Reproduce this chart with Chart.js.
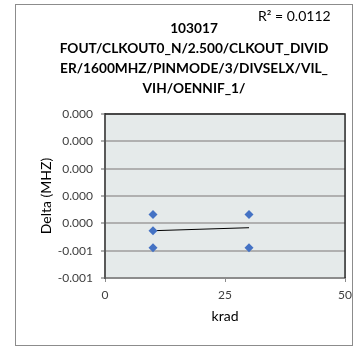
<!DOCTYPE html>
<html>
<head>
<meta charset="utf-8">
<script src="https://cdn.jsdelivr.net/npm/chart.js@4"></script>
<style>
  html, body { margin: 0; padding: 0; background: #fff; }
  #wrap { width: 358px; height: 347px; position: relative; }
</style>
</head>
<body>
<div id="wrap"><canvas id="chart" width="358" height="347"></canvas></div>
<script>
// data
const xTop = [10, 30];
const yTop = [-0.000335, -0.000335];
const xMid = [10];
const yMid = [-0.000454];
const xLow = [10, 30];
const yLow = [-0.000579, -0.000579];
const trendX = [10, 30];
const trendY = [-0.000454, -0.000432];
const yTickLabels = ['-0.001', '-0.001', '0.000', '0.000', '0.000', '0.000', '0.000']; // bottom to top
const xTicks = [0, 25, 50];
const titleLines = ['103017', 'FOUT/CLKOUT0_N/2.500/CLKOUT_DIVID', 'ER/1600MHZ/PINMODE/3/DIVSELX/VIL_', 'VIH/OENNIF_1/'];
const rSquared = '0.0112';

const pts = [];
[[xTop, yTop], [xMid, yMid], [xLow, yLow]].forEach(([xs, ys]) => {
    xs.forEach((x, i) => pts.push({x: x, y: ys[i]}));
});
const trend = trendX.map((x, i) => ({x: x, y: trendY[i]}));

const FONT = 'Lato, "Open Sans", sans-serif';

const frame = {
    id: 'frame',
    beforeDraw(chart) {
        const {ctx, chartArea: a} = chart;
        ctx.save();
        ctx.strokeStyle = '#8c8c8c';
        ctx.lineWidth = 1;
        ctx.strokeRect(15.5, 4.5, 337, 341);
        ctx.fillStyle = '#e5eaea';
        ctx.fillRect(a.left, a.top, a.right - a.left, a.bottom - a.top);
        ctx.restore();
    },
    afterDraw(chart) {
        const {ctx, chartArea: a} = chart;
        ctx.save();
        ctx.strokeStyle = '#262626';
        ctx.lineWidth = 1.5;
        ctx.beginPath();
        ctx.moveTo(a.left, a.top);
        ctx.lineTo(a.right, a.top);
        ctx.lineTo(a.right, a.bottom);
        ctx.stroke();
        // title
        ctx.fillStyle = '#000';
        ctx.textAlign = 'center';
        ctx.textBaseline = 'middle';
        ctx.font = 'bold 13.7px ' + FONT;
        titleLines.forEach((t, i) => ctx.fillText(t, 194, 29 + i * 20));
        // R squared
        ctx.font = '14px ' + FONT;
        ctx.textAlign = 'left';
        ctx.fillText('R² = ' + rSquared, 258, 16);
        ctx.restore();
    }
};

new Chart(document.getElementById('chart'), {
    type: 'scatter',
    data: {
        datasets: [
            {
                label: 'data',
                data: pts,
                pointStyle: 'rectRot',
                pointRadius: 4.5,
                pointHoverRadius: 4.5,
                backgroundColor: '#4472c4',
                borderColor: '#4472c4',
                borderWidth: 0,
            },
            {
                label: 'trend',
                type: 'line',
                data: trend,
                borderColor: '#000',
                borderWidth: 1,
                pointRadius: 0,
                fill: false,
            },
        ],
    },
    options: {
        responsive: false,
        animation: false,
        layout: {padding: {top: 114, left: 38, right: 11, bottom: 22}},
        plugins: {
            legend: {display: false},
            title: {display: false},
            tooltip: {enabled: false},
        },
        scales: {
            x: {
                min: 0,
                max: 50,
                afterBuildTicks: (axis) => { axis.ticks = xTicks.map(v => ({value: v})); },
                afterFit: (axis) => { axis.height = 47; },
                border: {color: '#8c8c8c', width: 2},
                grid: {display: true, drawOnChartArea: false, tickLength: 4, color: '#8c8c8c'},
                ticks: {padding: 6, color: '#404040', font: {family: FONT, size: 12}, maxRotation: 0},
                title: {display: true, text: 'krad', color: '#000', font: {family: FONT, size: 14}, padding: 0},
            },
            y: {
                min: -0.0008,
                max: 0.0004,
                afterFit: (axis) => { axis.width = 67; },
                border: {color: '#595959', width: 2},
                grid: {color: '#b0b0b0', lineWidth: 2, tickLength: 4},
                ticks: {
                    stepSize: 0.0002,
                    padding: 8,
                    color: '#404040',
                    font: {family: FONT, size: 12},
                    callback: (v, i) => yTickLabels[i],
                },
                title: {display: true, text: 'Delta (MHZ)', color: '#000', font: {family: FONT, size: 14}, padding: 0},
            },
        },
    },
    plugins: [frame],
});
</script>
</body>
</html>
